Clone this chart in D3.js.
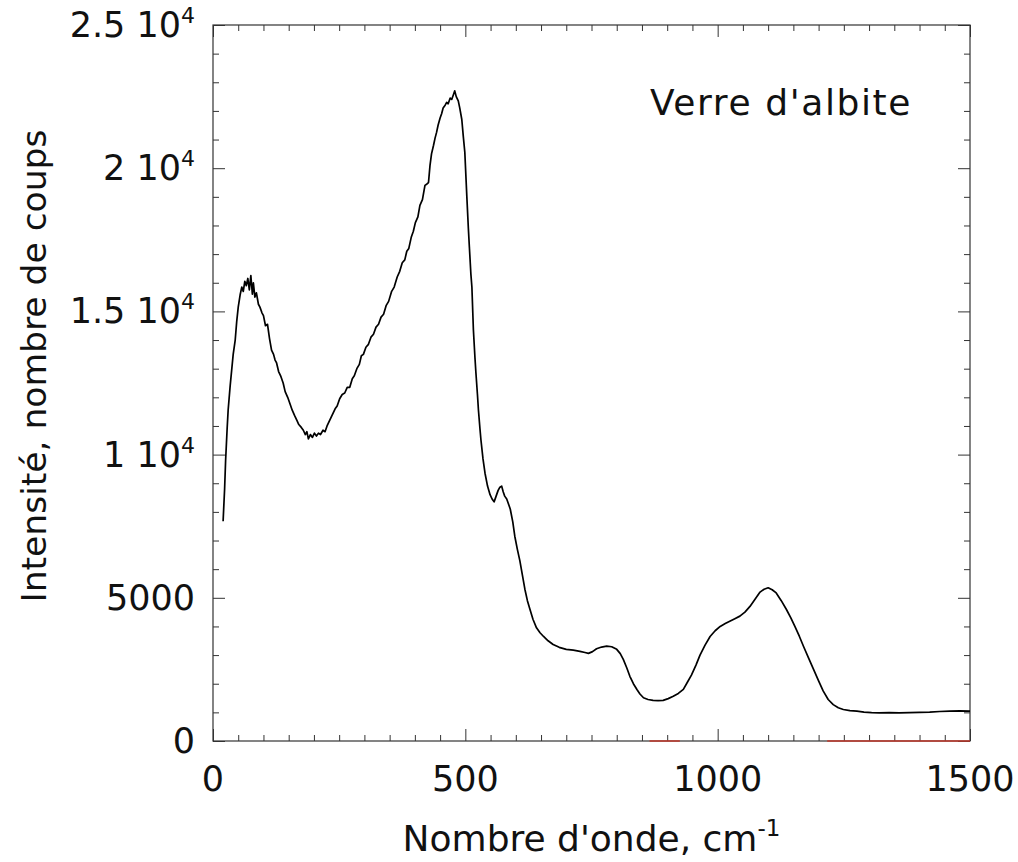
<!DOCTYPE html>
<html>
<head>
<meta charset="utf-8">
<script src="https://cdn.jsdelivr.net/npm/d3@7"></script>
<style>
  body { margin: 0; background: #fff; }
  text { font-family: "DejaVu Sans", "Noto Sans", sans-serif; fill: #111; }
</style>
</head>
<body>
<div id="chart"></div>
<script>
// Raman spectrum, albite glass
const waveNumber = [20,23,25,28,30,34,37,40,44,47,50,54,57,60,63,66,69,72,75,78,80,83,86,90,93,97,100,104,108,112,116,120,123,126,130,134,139,143,148,152,157,162,166,170,175,179,183,186,189,193,197,201,205,209,213,218,222,226,230,234,238,242,246,251,256,261,266,271,276,280,285,290,294,298,303,308,313,318,323,328,333,338,343,348,354,359,365,370,375,380,384,388,393,397,401,406,410,415,420,424,427,430,433,437,440,443,446,450,453,456,460,463,466,470,473,476,479,482,486,489,493,496,499,503,506,508,511,513,516,519,521,524,526,529,531,535,539,544,549,553,557,561,565,568,572,575,578,582,585,589,594,598,603,608,613,618,623,628,634,641,648,655,664,674,686,700,714,727,737,744,752,760,770,780,790,800,807,813,820,826,833,840,846,853,862,872,882,892,902,912,922,932,940,948,957,965,975,985,995,1005,1015,1024,1034,1044,1054,1064,1074,1084,1092,1100,1108,1116,1126,1136,1145,1153,1162,1170,1180,1190,1200,1209,1219,1229,1239,1249,1262,1276,1290,1305,1320,1340,1360,1380,1400,1420,1440,1460,1480,1500];
const intensity = [7670,8800,9800,10900,11550,12400,12950,13500,14000,14650,15150,15600,15850,15700,16050,15900,16150,15750,16250,15600,16000,15500,15650,15250,15150,14950,14850,14500,14550,14050,13650,13500,13300,13200,12900,12750,12500,12200,12000,11800,11550,11350,11200,11050,10950,10850,10700,10800,10550,10700,10600,10750,10650,10750,10700,10850,10800,11000,11150,11300,11450,11600,11700,11950,12100,12150,12350,12350,12650,12750,13000,13150,13450,13500,13750,13850,14100,14200,14450,14550,14800,14900,15200,15350,15700,15850,16200,16400,16700,16800,17100,17200,17600,17800,18100,18300,18700,18900,19400,19450,19500,20100,20500,20800,21050,21250,21500,21750,21900,22100,22200,22300,22250,22450,22400,22550,22700,22500,22350,22100,21700,21100,20550,19000,17900,17250,16300,15850,14350,13400,12850,12100,11550,10900,10500,9850,9350,8900,8600,8450,8350,8550,8750,8850,8900,8700,8550,8450,8300,8100,7650,7150,6700,6300,5800,5300,4900,4600,4250,3950,3780,3650,3500,3370,3270,3200,3170,3130,3090,3060,3120,3220,3280,3310,3290,3200,3050,2850,2550,2260,2000,1800,1640,1510,1450,1420,1410,1420,1480,1560,1660,1800,2050,2300,2650,3000,3350,3650,3850,4000,4100,4180,4270,4360,4500,4700,4950,5200,5300,5350,5280,5170,4900,4600,4300,4000,3650,3310,2900,2500,2100,1750,1450,1270,1160,1100,1060,1040,1010,990,985,990,985,990,1000,1010,1030,1040,1050,1040];

// red marks lying on the x axis
const redSegments = [[865, 925], [1217, 1500]];

const xMajorTicks = [0, 500, 1000, 1500];
const yMajorTicks = [0, 5000, 10000, 15000, 20000, 25000];
const yTickLabels = [["0", ""], ["5000", ""], ["1 10", "4"], ["1.5 10", "4"], ["2 10", "4"], ["2.5 10", "4"]];

const width = 1018;
const height = 862;
const margin = { top: 25, right: 48, bottom: 121, left: 213 };

const svg = d3.select("#chart")
    .append("svg")
    .attr("width", width)
    .attr("height", height);

const x = d3.scaleLinear().domain([0, 1500]).range([margin.left, width - margin.right]);
const y = d3.scaleLinear().domain([0, 25000]).range([height - margin.bottom, margin.top]);

const xMinor = d3.range(0, 1501, 50).filter(v => v % 500 !== 0);
const yMinor = d3.range(0, 25001, 1000).filter(v => v % 5000 !== 0);

// ticks pointing inward on all four sides
function tickAxes(axisFn, scale, values, size, transform) {
    svg.append("g")
        .attr("transform", transform)
        .call(axisFn(scale).tickValues(values).tickSize(size).tickFormat(""))
        .call(g => g.select(".domain").remove())
        .call(g => g.selectAll(".tick line").attr("stroke", "#333").attr("stroke-width", 1));
}
const bottomY = height - margin.bottom;
const rightX = width - margin.right;
tickAxes(d3.axisBottom, x, xMinor, -6, `translate(0,${bottomY})`);
tickAxes(d3.axisBottom, x, xMajorTicks, -12, `translate(0,${bottomY})`);
tickAxes(d3.axisTop, x, xMinor, -6, `translate(0,${margin.top})`);
tickAxes(d3.axisTop, x, xMajorTicks, -12, `translate(0,${margin.top})`);
tickAxes(d3.axisLeft, y, yMinor, -6, `translate(${margin.left},0)`);
tickAxes(d3.axisLeft, y, yMajorTicks, -12, `translate(${margin.left},0)`);
tickAxes(d3.axisRight, y, yMinor, -6, `translate(${rightX},0)`);
tickAxes(d3.axisRight, y, yMajorTicks, -12, `translate(${rightX},0)`);

// frame
svg.append("rect")
    .attr("x", margin.left)
    .attr("y", margin.top)
    .attr("width", rightX - margin.left)
    .attr("height", bottomY - margin.top)
    .attr("fill", "none")
    .attr("stroke", "#333")
    .attr("stroke-width", 1.2);

// red segments on the baseline
svg.selectAll(".red")
    .data(redSegments)
    .join("line")
    .attr("x1", d => x(d[0]))
    .attr("x2", d => x(d[1]))
    .attr("y1", y(0))
    .attr("y2", y(0))
    .attr("stroke", "#c0392b")
    .attr("stroke-width", 1.5);

// x tick labels
svg.selectAll(".xlab")
    .data(xMajorTicks)
    .join("text")
    .attr("x", d => x(d))
    .attr("y", bottomY + 50)
    .attr("text-anchor", "middle")
    .attr("font-size", "35px")
    .text(d => d);

// y tick labels with superscript exponent
const ylab = svg.selectAll(".ylab")
    .data(yMajorTicks)
    .join("text")
    .attr("x", margin.left - 18)
    .attr("y", d => y(d) + 12)
    .attr("text-anchor", "end")
    .attr("font-size", "35px");
ylab.append("tspan").text((d, i) => yTickLabels[i][0]);
ylab.append("tspan")
    .attr("dy", -14)
    .attr("font-size", "22px")
    .text((d, i) => yTickLabels[i][1]);

// spectrum
const line = d3.line()
    .x((d, i) => x(waveNumber[i]))
    .y(d => y(d));

svg.append("path")
    .datum(intensity)
    .attr("d", line)
    .attr("fill", "none")
    .attr("stroke", "#000")
    .attr("stroke-width", 1.7)
    .attr("stroke-linejoin", "round");

// sample label
svg.append("text")
    .attr("x", 912)
    .attr("y", 115)
    .attr("text-anchor", "end")
    .attr("font-size", "36px")
    .attr("letter-spacing", "1.6px")
    .text("Verre d'albite");

// axis titles
const xTitle = svg.append("text")
    .attr("x", (margin.left + rightX) / 2)
    .attr("y", 851)
    .attr("text-anchor", "middle")
    .attr("font-size", "36px");
xTitle.append("tspan").text("Nombre d'onde, cm");
xTitle.append("tspan").attr("dy", -15).attr("font-size", "23px").text("-1");

svg.append("text")
    .attr("transform", "translate(46,366) rotate(-90)")
    .attr("text-anchor", "middle")
    .attr("font-size", "34.5px")
    .text("Intensité, nombre de coups");
</script>
</body>
</html>
